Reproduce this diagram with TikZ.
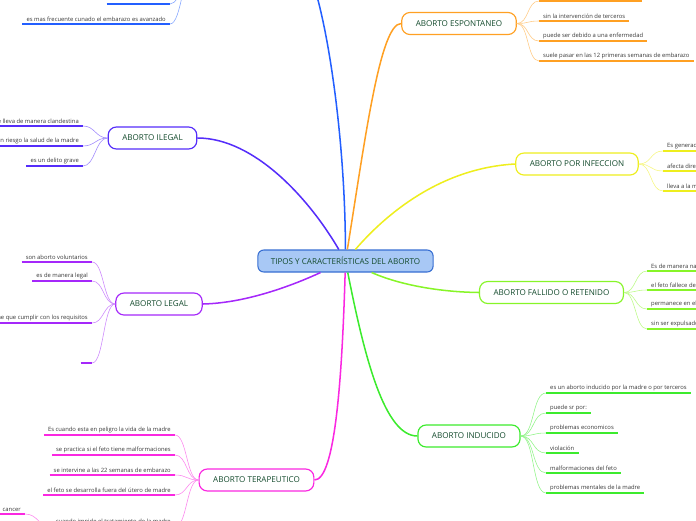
\documentclass[tikz,border=0pt]{standalone}
\usepackage{fontspec}
\setmainfont{Open Sans}
\usepackage{xcolor}
\usepackage{tikz}
\usetikzlibrary{calc}

\definecolor{cAzul}{RGB}{35,95,255}
\definecolor{cIndigo}{RGB}{85,45,250}
\definecolor{cMorado}{RGB}{165,40,250}
\definecolor{cMagenta}{RGB}{250,40,225}
\definecolor{cVerde}{RGB}{60,235,45}
\definecolor{cLima}{RGB}{135,245,40}
\definecolor{cAmarillo}{RGB}{238,238,30}
\definecolor{cNaranja}{RGB}{255,160,35}
\definecolor{cBorde}{RGB}{55,110,210}
\definecolor{cFondo}{RGB}{168,200,245}
\definecolor{cTexto}{RGB}{20,75,45}
\definecolor{cGris}{RGB}{55,55,55}

\begin{document}
\begin{tikzpicture}[x=0.03cm, y=-0.03cm,
			centro/.style={rectangle, draw=cBorde, fill=cFondo, line width=0.9pt,
				rounded corners=5pt, minimum height=0.66cm, inner xsep=11pt,
				font=\fontsize{6.9}{8}\selectfont, text=cTexto},
			tema/.style={rectangle, draw=#1, fill=white, line width=1pt,
				rounded corners=7pt, minimum height=0.66cm, inner xsep=12pt,
				font=\fontsize{6.9}{8}\selectfont, text=cTexto},
			idea/.style={inner xsep=3.4pt, inner ysep=2pt,
				font=\fontsize{5}{6}\selectfont, text=cGris},
			rama/.style={line width=1.3pt, draw=#1},
			hilo/.style={line width=0.5pt, draw=#1!55},
			raya/.style={line width=1.6pt, draw=#1},
			]
			\useasboundingbox (0,0) rectangle (696,520);
			\clip (0,0) rectangle (696,520);
			
			% Centre and main topics
			\node[centro] (c) at (345.5,261) {TIPOS Y CARACTERÍSTICAS DEL ABORTO};
			\node[tema=cNaranja] (esp) at (459,23.5) {ABORTO ESPONTANEO};
			\node[tema=cAmarillo] (inf) at (577,164) {ABORTO POR INFECCION};
			\node[tema=cLima] (fal) at (551.5,292.5) {ABORTO FALLIDO O RETENIDO};
			\node[tema=cVerde] (ind) at (469,436) {ABORTO INDUCIDO};
			\node[tema=cMagenta] (ter) at (256.5,480) {ABORTO TERAPEUTICO};
			\node[tema=cMorado] (leg) at (159,304) {ABORTO LEGAL};
			\node[tema=cIndigo] (ile) at (152.5,138) {ABORTO ILEGAL};
			\coordinate (azulD) at (305,-35);
			\coordinate (azulI) at (195,-35);
			
			% Branches from the centre
			\draw[rama=cAzul] (c) .. controls (345,120) and (322,-10) .. (azulD);
			\draw[rama=cNaranja] (c) .. controls (365,140) and (380,23.5) .. (esp.west);
			\draw[rama=cAmarillo] (c) .. controls (385,215) and (440,168) .. (inf.west);
			\draw[rama=cLima] (c) .. controls (400,285) and (440,292) .. (fal.west);
			\draw[rama=cVerde] (c) .. controls (365,360) and (385,436) .. (ind.west);
			\draw[rama=cMagenta] (c) .. controls (342,380) and (335,480) .. (ter.east);
			\draw[rama=cMorado] (c) .. controls (300,282) and (250,303) .. (leg.east);
			\draw[rama=cIndigo] (c) .. controls (310,200) and (255,138) .. (ile.east);
			
			% Blue topic (above the page)
			\node[idea, anchor=south east, minimum width=1.89cm] (az1) at (170,4) {};
			\node[idea, anchor=south east] (az2) at (170,24) {es mas frecuente cunado el embarazo es avanzado};
			\foreach \i in {1,2} {
				\draw[raya=cAzul] (az\i.south west) -- (az\i.south east);
				\draw[hilo=cAzul] (azulI) .. controls +(-12,0) and +(12,0) .. (az\i.south east);
			}
			
			% Espontaneo
			\node[idea, anchor=south west, minimum width=3.09cm] (esp0) at (539,1) {};
			\draw[raya=cNaranja] (esp0.south west) -- (esp0.south east);
			\draw[hilo=cNaranja] (esp.east) .. controls +(12,0) and +(-12,0) .. (esp0.south west);
			\foreach \y/\t [count=\i] in {21/sin la intervención de terceros,
				41/puede ser debido a una enfermedad,
				61/suele pasar en las 12 primeras semanas de embarazo} {
				\node[idea, anchor=south west] (esp\i) at (539,\y) {\t};
				\draw[raya=cNaranja] (esp\i.south west) -- (esp\i.south east);
				\draw[hilo=cNaranja] (esp.east) .. controls +(12,0) and +(-12,0) .. (esp\i.south west);
			}
			
			% Infeccion
			\foreach \y/\t [count=\i] in {151/Es generado por una infección,
				171/afecta directamente al feto,
				191/lleva a la muerte del feto} {
				\node[idea, anchor=south west] (inf\i) at (663,\y) {\t};
				\draw[raya=cAmarillo] (inf\i.south west) -- (inf\i.south east);
				\draw[hilo=cAmarillo] (inf.east) .. controls +(13,0) and +(-13,0) .. (inf\i.south west);
			}
			
			% Fallido o retenido
			\foreach \y/\t [count=\i] in {271/Es de manera natural,
				290/el feto fallece dentro del útero,
				309/permanece en el útero,
				329/sin ser expulsado} {
				\node[idea, anchor=south west] (fal\i) at (647,\y) {\t};
				\draw[raya=cLima] (fal\i.south west) -- (fal\i.south east);
				\draw[hilo=cLima] (fal.east) .. controls +(12,0) and +(-12,0) .. (fal\i.south west);
			}
			
			% Inducido
			\foreach \y/\t [count=\i] in {393/es un aborto inducido por la madre o por terceros,
				413/puede sr por:,
				433/problemas economicos,
				453/violación,
				473/malformaciones del feto,
				493/problemas mentales de la madre} {
				\node[idea, anchor=south west] (ind\i) at (546,\y) {\t};
				\draw[raya=cVerde] (ind\i.south west) -- (ind\i.south east);
				\draw[hilo=cVerde] (ind.east) .. controls +(14,0) and +(-14,0) .. (ind\i.south west);
			}
			
			% Terapeutico
			\foreach \y/\t [count=\i] in {435/Es cuando esta en peligro la vida de la madre,
				455/se practica si el feto tiene malformaciones,
				475/se intervine a las 22 semanas de embarazo,
				495/el feto se desarrolla fuera del útero de madre,
				527/cuando impide el tratamiento de la madre} {
				\node[idea, anchor=south east] (ter\i) at (175,\y) {\t};
				\draw[raya=cMagenta] (ter\i.south west) -- (ter\i.south east);
				\draw[hilo=cMagenta] (ter.west) .. controls +(-12,0) and +(12,0) .. (ter\i.south east);
			}
			\node[idea, anchor=south east] (cancer) at (25,514) {cancer};
			\draw[raya=cMagenta] (cancer.south west) -- (cancer.south east);
			\draw[hilo=cMagenta] (ter5.south west) .. controls +(-13,0) and +(13,0) .. (cancer.south east);
			
			% Legal
			\foreach \y/\t [count=\i] in {262/son aborto voluntarios,
				281/es de manera legal,
				323/tiene que cumplir con los requisitos} {
				\node[idea, anchor=south east] (leg\i) at (92,\y) {\t};
				\draw[raya=cMorado] (leg\i.south west) -- (leg\i.south east);
				\draw[hilo=cMorado] (leg.west) .. controls +(-12,0) and +(12,0) .. (leg\i.south east);
			}
			\node[idea, anchor=south east, minimum width=0.33cm] (leg4) at (92,363) {};
			\draw[raya=cMorado] (leg4.south west) -- (leg4.south east);
			\draw[hilo=cMorado] (leg.west) .. controls +(-12,0) and +(12,0) .. (leg4.south east);
			
			% Ilegal
			\foreach \y/\t [count=\i] in {126/se lleva de manera clandestina,
				146/pone en riesgo la salud de la madre,
				166/es un delito grave} {
				\node[idea, anchor=south east] (ile\i) at (83,\y) {\t};
				\draw[raya=cIndigo] (ile\i.south west) -- (ile\i.south east);
				\draw[hilo=cIndigo] (ile.west) .. controls +(-12,0) and +(12,0) .. (ile\i.south east);
			}
		\end{tikzpicture}
\end{document}
